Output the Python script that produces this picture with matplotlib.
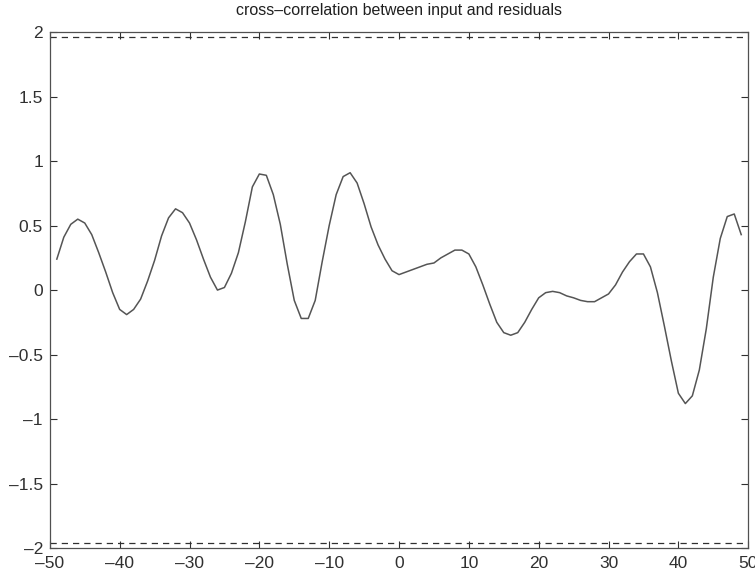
import matplotlib
matplotlib.use("Agg")
import matplotlib.pyplot as plt
import numpy as np

# Cross-correlation between input and residuals, lags -49..49
lags = np.arange(-49, 50)
xcorr = [
    0.24, 0.41, 0.51, 0.55, 0.52, 0.43, 0.29, 0.14, -0.02, -0.15,   # -49..-40
    -0.19, -0.15, -0.07, 0.07, 0.23, 0.42, 0.56, 0.63, 0.60, 0.52,  # -39..-30
    0.39, 0.24, 0.10, 0.00, 0.02, 0.13, 0.29, 0.53, 0.80, 0.90,     # -29..-20
    0.89, 0.74, 0.51, 0.20, -0.08, -0.22, -0.22, -0.08, 0.22, 0.50, # -19..-10
    0.74, 0.88, 0.91, 0.83, 0.67, 0.49, 0.35, 0.24, 0.15, 0.12,     # -9..0
    0.14, 0.16, 0.18, 0.20, 0.21, 0.25, 0.28, 0.31, 0.31, 0.28,     # 1..10
    0.18, 0.04, -0.11, -0.25, -0.33, -0.35, -0.33, -0.25, -0.15, -0.06,  # 11..20
    -0.02, -0.01, -0.02, -0.045, -0.06, -0.08, -0.09, -0.09, -0.06, -0.03,  # 21..30
    0.04, 0.14, 0.22, 0.28, 0.28, 0.18, -0.02, -0.28, -0.55, -0.80,  # 31..40
    -0.88, -0.82, -0.62, -0.30, 0.10, 0.40, 0.57, 0.59, 0.43,        # 41..49
]
conf = 1.96  # 95% confidence bound

xticks = list(range(-50, 51, 10))
yticks = [-2, -1.5, -1, -0.5, 0, 0.5, 1, 1.5, 2]

plt.rcParams['font.family'] = ['Liberation Sans', 'DejaVu Sans']


def fmt(v):
    s = ('%g' % v)
    return s.replace('-', '\u2013')


fig = plt.figure(figsize=(7.55, 5.79), dpi=100)
ax = fig.add_axes([0.066, 0.0535, 0.925, 0.891])

ax.plot(lags, xcorr, color='#555555', linewidth=1.1)
ax.axhline(conf, color='#303030', linestyle=(0, (5, 4)), linewidth=0.9)
ax.axhline(-conf, color='#303030', linestyle=(0, (5, 4)), linewidth=0.9)

ax.set_xlim(-50, 50)
ax.set_ylim(-2, 2)
ax.set_xticks(xticks)
ax.set_yticks(yticks)
ax.set_xticklabels([fmt(v) for v in xticks])
ax.set_yticklabels([fmt(v) for v in yticks])
ax.tick_params(direction='in', top=True, right=True, length=5,
               labelsize=12.5, colors='#303030')
ax.tick_params(axis='x', pad=6)
ax.tick_params(axis='y', pad=5)
for s in ax.spines.values():
    s.set_color('#505050')
    s.set_linewidth(0.9)

ax.set_title('cross\u2013correlation between input and residuals',
             fontsize=11.5, color='#202020', pad=12)

fig.savefig('out.png', dpi=100)
